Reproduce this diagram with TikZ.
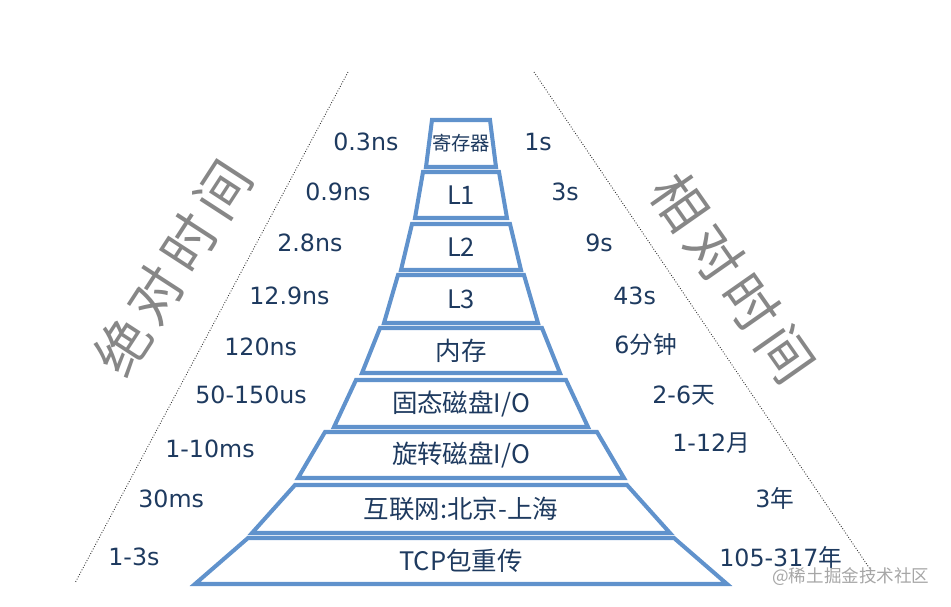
\documentclass[tikz,border=0pt]{standalone}
\usepackage{fontspec}
\setmainfont{DejaVu Sans}
\newfontfamily\cjk{Noto Sans CJK SC}
\definecolor{layerblue}{RGB}{96,146,204}
\definecolor{labelblue}{RGB}{30,58,95}
\definecolor{titlegray}{RGB}{135,135,135}

\begin{document}
\begin{tikzpicture}[
  x=0.02cm, y=-0.02cm,
  layer/.style={draw=layerblue, line width=2.3pt, line join=miter},
  inlabel/.style={font=\cjk\fontsize{14.5}{16}\selectfont, text=labelblue, inner sep=0pt},
  timelabel/.style={font=\fontsize{13.5}{15}\selectfont, text=labelblue, inner sep=0pt, anchor=west},
  guide/.style={densely dotted, line width=0.5pt, draw=black!80},
  bigtitle/.style={font=\cjk\fontsize{31}{34}\selectfont, text=titlegray, inner sep=0pt},
  wmark/.style={font=\cjk\fontsize{10}{12}\selectfont, text=black!35, inner sep=0pt, anchor=west}
]
\useasboundingbox (0,0) rectangle (951,606);

% dotted side lines
\coordinate (lt) at (348,72);
\coordinate (lb) at (75,583);
\coordinate (rt) at (534,72);
\coordinate (rb) at (872,572);
\draw[guide] (lt) -- (lb);
\draw[guide] (rt) -- (rb);

% pyramid layers
\foreach \yt/\yb/\wt/\wb/\name/\txt in {
  120/167/29/35/reg/{\fontsize{11}{12}\selectfont 寄存器},
  172/218/38/46/lone/L1,
  224/270/49/60/ltwo/L2,
  275/323/63/77/lthree/L3,
  328/373/81/99/mem/内存,
  380/427/105/127/ssd/{固态磁盘I/O},
  432/478/136/163/hdd/{旋转磁盘I/O},
  485/533/166/209/net/{互联网:北京-上海},
  538/584/213/266/tcp/{TCP包重传}} {
  \draw[layer] (461-\wt,\yt) -- (461+\wt,\yt) -- (461+\wb,\yb) -- (461-\wb,\yb) -- cycle;
  \node[inlabel] (\name) at (461,{(\yt+\yb)/2}) {\txt};
}

% absolute time
\foreach \x/\y/\name/\txt in {
  333/142/aone/0.3ns,
  305/192/atwo/0.9ns,
  277/243/athree/2.8ns,
  249/296/afour/12.9ns,
  224/347/afive/120ns,
  195/395/asix/50-150us,
  165/449/aseven/1-10ms,
  138/499/aeight/30ms,
  108/557/anine/1-3s} {
  \node[timelabel] (\name) at (\x,\y) {\txt};
}

% relative time
\foreach \x/\y/\name/\txt in {
  524/142/rone/1s,
  551/192/rtwo/3s,
  585/243/rthree/9s,
  613/296/rfour/43s,
  614/345/rfive/6{\cjk 分钟},
  652/395/rsix/2-6{\cjk 天},
  672/443/rseven/1-12{\cjk 月},
  755/498/reight/3{\cjk 年},
  719/557/rnine/105-317{\cjk 年}} {
  \node[timelabel] (\name) at (\x,\y) {\txt};
}

% side titles, one glyph each
\foreach \x/\y/\name/\ch in {122/346/absa/绝, 155/294/absb/对, 189/242/absc/时, 223/190/absd/间}
  \node[bigtitle, rotate=57] (\name) at (\x,\y) {\ch};
\foreach \x/\y/\name/\ch in {680/202/rela/相, 715/253/relb/对, 751/303/relc/时, 786/354/reld/间}
  \node[bigtitle, rotate=-55] (\name) at (\x,\y) {\ch};

\node[wmark] (wm) at (772,577) {@稀土掘金技术社区};
\end{tikzpicture}
\end{document}
